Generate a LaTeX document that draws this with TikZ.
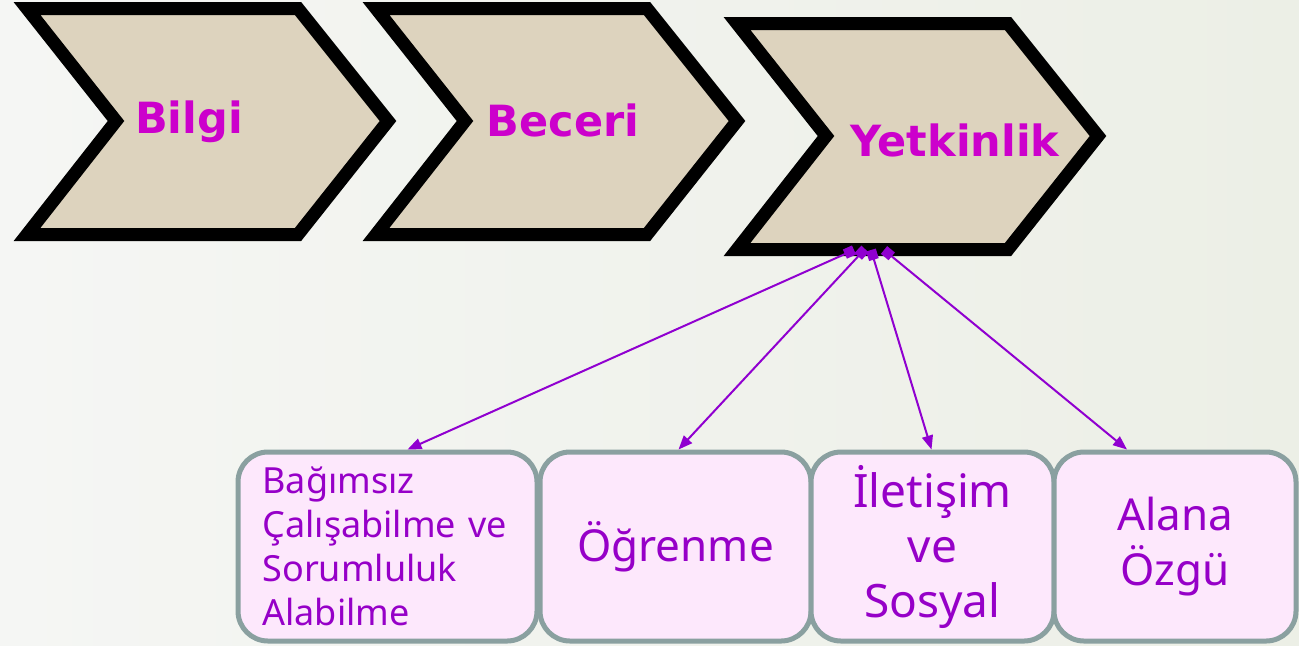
\documentclass[tikz,border=0pt]{standalone}
\usepackage{fontspec}
\setmainfont{Noto Sans}
\newfontfamily\titlefont{DejaVu Sans}
\usetikzlibrary{arrows.meta}
\definecolor{bgleft}{RGB}{245,246,244}
\definecolor{bgright}{RGB}{236,239,230}
\definecolor{chevfill}{RGB}{221,211,190}
\definecolor{titlec}{RGB}{204,0,204}
\definecolor{txtc}{RGB}{150,0,200}
\definecolor{boxfill}{RGB}{253,232,252}
\definecolor{boxc}{RGB}{138,160,160}
\definecolor{arrc}{RGB}{144,0,208}
\tikzset{
  chev/.style={draw=black, line width=6.5pt, fill=chevfill, line join=miter, miter limit=10},
  chevron/.pic={\draw[chev] (27,8.5) -- (298,8.5) -- (388,121) -- (298,234.5) -- (27,234.5) -- (116,121) -- cycle;},
  title/.style={font=\titlefont\bfseries\fontsize{21.5}{26}\selectfont, text=titlec, inner sep=0pt},
  box/.style={draw=boxc, line width=2.5pt, fill=boxfill, rounded corners=15pt, minimum height=94.5pt, inner sep=0pt, text=txtc, font=\fontsize{22}{27.5}\selectfont, align=center},
  link/.style={draw=arrc, line width=1pt, {Square[length=5pt,width=5pt]}-{Triangle[length=7pt,width=5.5pt]}}
}
\begin{document}
\begin{tikzpicture}[x=0.5pt,y=-0.5pt]
\shade[left color=bgleft, right color=bgright] (0,0) rectangle (1299,645);
\useasboundingbox (0,0) rectangle (1299,645);
% chevrons
\pic at (0,0) {chevron};
\pic at (349,0) {chevron};
\pic at (710,15) {chevron};
\node[title] (t1) at (189,122) {Bilgi};
\node[title] (t2) at (563,120) {Beceri};
\node[title] (t3) at (955,140) {Yetkinlik};
% boxes
\node[box, minimum width=149.5pt, align=left, text width=125pt, font=\fontsize{18}{22}\selectfont] (b1) at (387.5,546.5) {Bağımsız\\Çalışabilme ve\\Sorumluluk\\Alabilme};
\node[box, minimum width=135.5pt] (b2) at (675.5,546.5) {Öğrenme};
\node[box, minimum width=121.5pt, font=\fontsize{23}{27.5}\selectfont] (b3) at (932.5,546.5) {İletişim\\ve\\Sosyal};
\node[box, minimum width=121pt] (b4) at (1175,546.5) {Alana\\Özgü};
% start points
\coordinate (s1) at (854,250);
\coordinate (s2) at (865,249);
\coordinate (s3) at (871,250);
\coordinate (s4) at (884,250);
\draw[link] (s1) -- ([xshift=10pt]b1.north);
\draw[link] (s2) -- ([xshift=1.5pt]b2.north);
\draw[link] (s3) -- ([xshift=-0.5pt]b3.north);
\draw[link] (s4) -- ([xshift=-24pt]b4.north);
\end{tikzpicture}
\end{document}
